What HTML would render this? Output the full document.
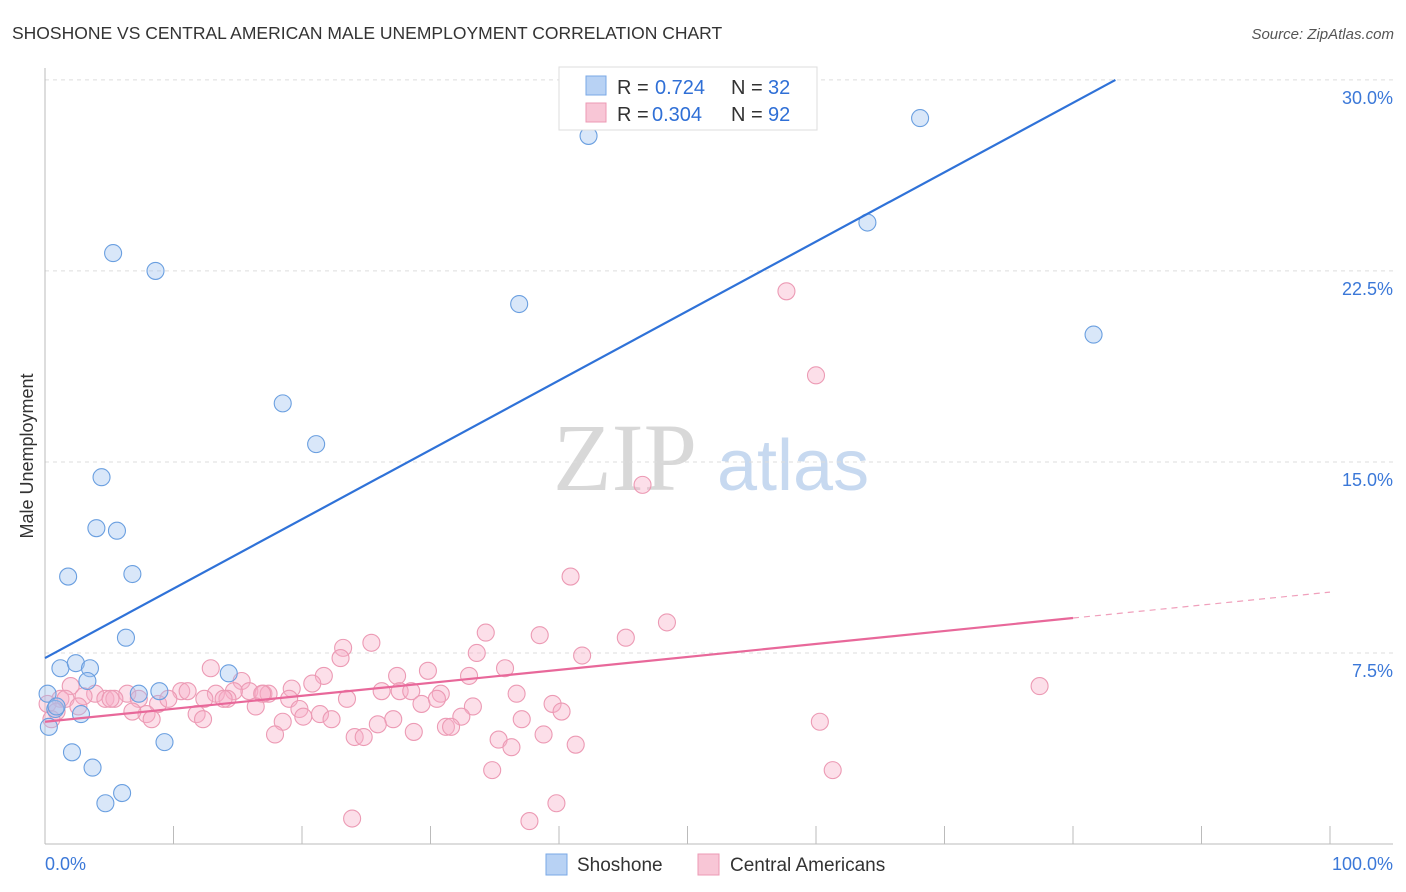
<!DOCTYPE html>
<html><head><meta charset="utf-8"><style>
body{margin:0;background:#fff;font-family:"Liberation Sans",sans-serif;}
svg{display:block}
</style></head><body>
<svg id="chart" width="1406" height="892">
<text x="12" y="39" font-size="17.5" fill="#333">SHOSHONE VS CENTRAL AMERICAN MALE UNEMPLOYMENT CORRELATION CHART</text>
<text x="1394" y="39" font-size="15" fill="#555" font-style="italic" text-anchor="end">Source: ZipAtlas.com</text>
<text x="33" y="456" font-size="18" fill="#333" transform="rotate(-90 33 456)" text-anchor="middle">Male Unemployment</text>
<g>
<text x="553" y="490" font-size="96" fill="#d8d8d8" font-family="Liberation Serif,serif">ZIP</text>
<text x="717" y="490" font-size="72" fill="#c7d9f0">atlas</text>
</g>
<g id="grid"></g><g id="axes"></g><g id="pts"></g><g id="lines"></g>
<g>
<rect x="559" y="67" width="258" height="63" fill="#fff" stroke="#ddd"/>
<rect x="586" y="76" width="20" height="19" fill="#b8d2f4" stroke="#7aa8e6"/>
<rect x="586" y="103" width="20" height="19" fill="#f8c6d6" stroke="#ec9ab4"/>
<g font-size="20" fill="#333">
<text x="617" y="94">R =</text><text x="655" y="94" fill="#2f6fd6">0.724</text><text x="731" y="94">N =</text><text x="768" y="94" fill="#2f6fd6">32</text></g>
<g font-size="20" fill="#333">
<text x="617" y="121">R =</text><text x="652" y="121" fill="#2f6fd6">0.304</text><text x="731" y="121">N =</text><text x="768" y="121" fill="#2f6fd6">92</text></g>
</g>
<g>
<rect x="546" y="854" width="21" height="21" fill="#b8d2f4" stroke="#7aa8e6"/>
<text x="577" y="871" font-size="19" fill="#333">Shoshone</text>
<rect x="698" y="854" width="21" height="21" fill="#f8c6d6" stroke="#ec9ab4"/>
<text x="730" y="871" font-size="19" fill="#333">Central Americans</text>
</g>
<text x="45" y="870" font-size="18" fill="#3b78d8">0.0%</text>
<text x="1393" y="870" font-size="18" fill="#3b78d8" text-anchor="end">100.0%</text>
</svg>
<script>
const yTicks=[7.5,15,22.5,30];
const yTickLabels=["7.5%","15.0%","22.5%","30.0%"];
const xTicks=[0,10,20,30,40,50,60,70,80,90,100];
const blueX=[42.3,68.1,64.0,81.6,5.3,8.6,36.9,18.5,21.1,4.4,4.0,5.6,1.8,6.8,6.3,1.2,2.4,3.5,3.3,0.2,7.3,8.9,14.3,0.8,2.8,0.3,2.1,3.7,9.3,6.0,4.7,0.9];
const blueY=[27.8,28.5,24.4,20.0,23.2,22.5,21.2,17.3,15.7,14.4,12.4,12.3,10.5,10.6,8.1,6.9,7.1,6.9,6.4,5.9,5.9,6.0,6.7,5.3,5.1,4.6,3.6,3.0,4.0,2.0,1.6,5.4];
const pinkX=[57.7,60.0,46.5,40.9,48.4,34.3,38.5,45.2,25.4,23.2,41.8,33.6,23.0,12.9,29.8,35.8,27.4,21.7,33.0,77.4,19.2,20.8,15.3,10.6,11.1,15.9,17.0,17.4,13.3,14.7,26.2,27.6,28.5,30.8,36.7,16.9,19.0,14.2,6.4,3.9,2.0,1.2,4.7,5.4,7.3,8.8,9.6,12.4,13.9,16.4,19.8,23.5,29.3,30.5,33.3,39.5,40.2,11.8,12.3,7.9,6.8,8.3,18.5,20.1,21.4,22.3,27.1,25.9,32.4,37.1,60.3,31.2,31.6,28.7,24.1,24.8,17.9,35.3,36.3,38.8,41.3,34.8,61.3,39.8,23.9,37.7,0.2,0.9,1.6,3.0,5.1,0.5,2.6];
const pinkY=[21.7,18.4,14.1,10.5,8.7,8.3,8.2,8.1,7.9,7.7,7.4,7.5,7.3,6.9,6.8,6.9,6.6,6.6,6.6,6.2,6.1,6.3,6.4,6.0,6.0,6.0,5.9,5.9,5.9,6.0,6.0,6.0,6.0,5.9,5.9,5.9,5.7,5.7,5.9,5.9,6.2,5.7,5.7,5.7,5.7,5.5,5.7,5.7,5.7,5.4,5.3,5.7,5.5,5.7,5.4,5.5,5.2,5.1,4.9,5.1,5.2,4.9,4.8,5.0,5.1,4.9,4.9,4.7,5.0,4.9,4.8,4.6,4.6,4.4,4.2,4.2,4.3,4.1,3.8,4.3,3.9,2.9,2.9,1.6,1.0,0.9,5.5,5.2,5.7,5.8,5.7,4.9,5.4];
const blueFit=[7.3,0.2725,0,83.3];
const pinkFit=[4.8,0.0509,0,80,100];
const X=v=>45+v*12.85, Y=v=>844-v*25.47;
const NS="http://www.w3.org/2000/svg";
function mk(t,a,p){const e=document.createElementNS(NS,t);for(const k in a)e.setAttribute(k,a[k]);p.appendChild(e);return e;}
const grid=document.getElementById('grid'),axes=document.getElementById('axes'),pts=document.getElementById('pts'),lines=document.getElementById('lines');
yTicks.forEach((t,i)=>{
 const g=mk('line',{x1:45,x2:1393,y1:Y(t),y2:Y(t),stroke:'#ddd','stroke-dasharray':'4,4'},grid);
 
 
 const l=mk('text',{x:1393,y:Y(t)+24,'font-size':18,fill:'#3b78d8','text-anchor':'end'},grid);
 l.textContent=yTickLabels[i];
 
 
});
const ax=mk('line',{x1:45,x2:45,y1:68,y2:844,stroke:'#bbb'},axes);


const bx=mk('line',{x1:45,x2:1393,y1:844,y2:844,stroke:'#bbb'},axes);


xTicks.forEach(t=>{
 const k=mk('line',{x1:X(t),x2:X(t),y1:826,y2:844,stroke:'#bbb'},axes);
 
 
});
pinkX.forEach((x,i)=>{
 const c=mk('circle',{cx:X(x),cy:Y(pinkY[i]),r:8.5,fill:'rgba(247,176,200,0.4)',stroke:'#ec9ab4','stroke-width':1.1},pts);
 
 
});
blueX.forEach((x,i)=>{
 const c=mk('circle',{cx:X(x),cy:Y(blueY[i]),r:8.5,fill:'rgba(160,196,240,0.4)',stroke:'#6a9fe0','stroke-width':1.1},pts);
 
 
});
const bl=mk('line',{x1:X(blueFit[2]),y1:Y(blueFit[0]+blueFit[1]*blueFit[2]),x2:X(blueFit[3]),y2:Y(blueFit[0]+blueFit[1]*blueFit[3]),stroke:'#2f72d8','stroke-width':2.2},lines);


const pl=mk('line',{x1:X(pinkFit[2]),y1:Y(pinkFit[0]),x2:X(pinkFit[3]),y2:Y(pinkFit[0]+pinkFit[1]*pinkFit[3]),stroke:'#e8689a','stroke-width':2.2},lines);


const pd=mk('line',{x1:X(pinkFit[3]),y1:Y(pinkFit[0]+pinkFit[1]*pinkFit[3]),x2:X(pinkFit[4]),y2:Y(pinkFit[0]+pinkFit[1]*pinkFit[4]),stroke:'#f0a0bc','stroke-width':1.2,'stroke-dasharray':'6,5'},lines);


</script>
</body></html>
